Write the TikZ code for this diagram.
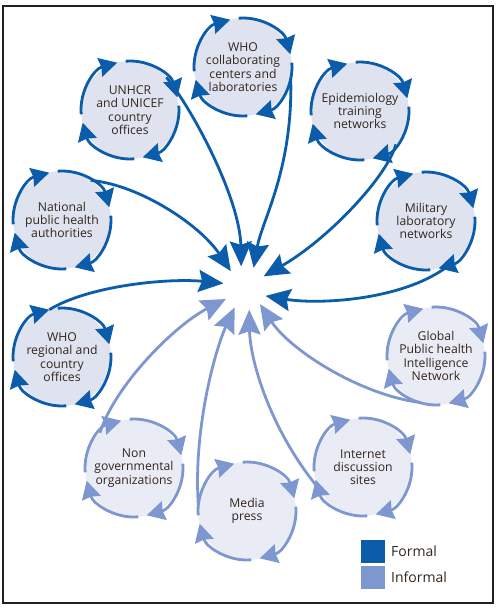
\documentclass[tikz,border=0pt]{standalone}
\usepackage{fontspec}
\setmainfont{Open Sans}
\usetikzlibrary{arrows.meta}
\definecolor{formal}{HTML}{0B5CAA}
\definecolor{informal}{HTML}{7F97D0}
\definecolor{ffill}{HTML}{DFE3F0}
\definecolor{ifill}{HTML}{E9ECF5}
\definecolor{txt}{HTML}{33261D}
\definecolor{framecol}{HTML}{231F20}
\newcommand\cyclering[2]{%
  \foreach \s/\e in {-185/-105,-95/-15,-5/75,85/165}{%
    \draw[ringarc,#2] (#1) ++(\s:49) arc[start angle=\s,end angle=\e,radius=49];}}
\begin{document}
\begin{tikzpicture}[x=1pt,y=-1pt,
  partner/.style={circle,minimum size=98pt,inner sep=0pt,outer sep=0pt,align=center,
    font=\fontsize{12.2}{13.3}\selectfont,text=txt},
  fpart/.style={partner,fill=ffill},
  ipart/.style={partner,fill=ifill},
  ringarc/.style={line width=2.8pt,-{Stealth[length=18pt,width=19pt,inset=1.5pt]}},
  conn/.style={line width=2.8pt,-{Stealth[length=25pt,width=22pt,inset=3.5pt]}},
  legbox/.style={minimum width=24pt,minimum height=23pt,inner sep=0pt},
  legtext/.style={anchor=west,font=\fontsize{14}{17}\selectfont,text=txt,inner sep=0pt},
]
\useasboundingbox (0,0) rectangle (498,608);
\draw[framecol,line width=2.5pt] (3,6) rectangle (493,603);

% hub
\node[circle,minimum size=44pt,inner sep=0pt,outer sep=0pt] (hub) at (245,288) {};

% formal partners
\node[fpart] (un)  at (130,110) {UNHCR\\and UNICEF\\country\\offices};
\node[fpart] (whoc) at (243,67) {WHO\\collaborating\\centers and\\laboratories};
\node[fpart] (epi) at (360,111) {Epidemiology\\training\\networks};
\node[fpart] (mil) at (426,221) {Military\\laboratory\\networks};
\node[fpart] (nat) at (62,220) {National\\public health\\authorities};
\node[fpart] (whor) at (62,357) {WHO\\regional and\\country\\offices};
% informal partners
\node[ipart] (glob) at (436,356) {Global\\Public health\\Intelligence\\Network};
\node[ipart] (ngo) at (134,468) {Non\\governmental\\organizations};
\node[ipart] (net) at (363,467) {Internet\\discussion\\sites};
\node[ipart] (med) at (247,511) {Media\\press};

\cyclering{un}{formal}
\cyclering{whoc}{formal}
\cyclering{epi}{formal}
\cyclering{mil}{formal}
\cyclering{nat}{formal}
\cyclering{whor}{formal}
\cyclering{glob}{informal}
\cyclering{ngo}{informal}
\cyclering{net}{informal}
\cyclering{med}{informal}

% connectors
\draw[conn,formal] (un.42) .. controls (195,113) and (240,200) .. (hub.100);
\draw[conn,formal] (whoc.-13) .. controls (293,170) and (262,220) .. (hub.67);
\draw[conn,formal] (epi.-43) .. controls (388,175) and (330,238) .. (hub.32);
\draw[conn,formal] (mil.-56) .. controls (410,300) and (320,305) .. (hub.-21);
\draw[conn,formal] (nat.54) .. controls (140,185) and (200,225) .. (hub.130);
\draw[conn,formal] (whor.105) .. controls (90,285) and (170,278) .. (hub.168);
\draw[conn,informal] (ngo.134) .. controls (115,385) and (175,325) .. (hub.-150);
\draw[conn,informal] (med.173) .. controls (193,430) and (215,350) .. (hub.-118);
\draw[conn,informal] (net.-153) .. controls (270,430) and (250,360) .. (hub.-79);
\draw[conn,informal] (glob.-108) .. controls (360,395) and (290,350) .. (hub.-47);

% legend
\node[legbox,fill=formal] (lf) at (373,551.5) {};
\node[legbox,fill=informal] (li) at (373,577.5) {};
\node[legtext] (lft) at (391,551.5) {Formal};
\node[legtext] (lit) at (391,577.5) {Informal};
\end{tikzpicture}
\end{document}
